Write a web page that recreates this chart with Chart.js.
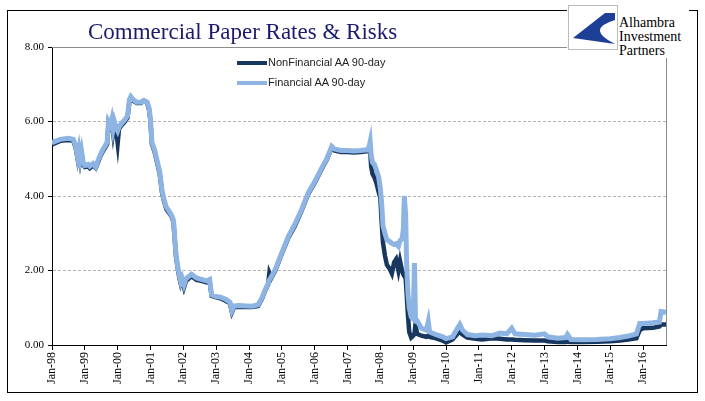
<!DOCTYPE html>
<html>
<head>
<meta charset="utf-8">
<script src="https://cdn.jsdelivr.net/npm/chart.js@4.4.1/dist/chart.umd.min.js"></script>
<style>
  body { margin: 0; background: #fff; }
  #wrap { position: relative; width: 705px; height: 401px; overflow: hidden; }
  #frame { position: absolute; left: 7px; top: 10px; width: 689px; height: 381px; border: 1.5px solid #000; }
  #chart { position: absolute; left: 0; top: 0; }
  #title { position: absolute; left: 88px; top: 20px; font: 23px "Liberation Serif", "Times New Roman", serif; line-height: 24px; color: #1b1b6e; white-space: nowrap; }
  #logo { position: absolute; left: 567px; top: 4px; width: 122px; height: 54px; background: #fff; }
  #logo svg { position: absolute; left: 1px; top: 1px; }
  #logo .txt { position: absolute; left: 52px; top: 12px; font: 14px "Liberation Serif", "Times New Roman", serif; line-height: 14px; color: #000; white-space: nowrap; }
  .leg { position: absolute; left: 237px; height: 14px; line-height: 14px; font: 11px "Liberation Sans", Arial, sans-serif; color: #222; white-space: nowrap; }
  .leg span.sw { display: inline-block; width: 30px; height: 3.5px; vertical-align: middle; margin-right: 1px; }
</style>
</head>
<body>
<div id="wrap">
  <div id="frame"></div>
  <canvas id="chart" width="705" height="401"></canvas>
  <div id="title">Commercial Paper Rates &amp; Risks</div>
  <div class="leg" style="top:56px"><span class="sw" style="background:#17375e"></span>NonFinancial AA 90-day</div>
  <div class="leg" style="top:76px"><span class="sw" style="background:#8db4e2"></span>Financial AA 90-day</div>
  <div id="logo">
    <svg width="50" height="46" viewBox="0 0 50 46">
      <rect x="0.5" y="0.5" width="49" height="44" fill="#fff" stroke="#bbb" stroke-width="1"/>
      <path d="M5 33 L37 8 L47 8 L47 15 Q17 24 47 39 Z" fill="#1d3f96"/>
    </svg>
    <div class="txt">Alhambra<br>Investment<br>Partners</div>
  </div>
</div>
<script>
// dates in decimal years
var dates = [
  1998.00, 1998.05, 1998.25, 1998.50, 1998.65, 1998.72, 1998.78, 1998.82, 1998.86, 1998.90,
  1998.95, 1999.00, 1999.10, 1999.15, 1999.25, 1999.33, 1999.40, 1999.48, 1999.55, 1999.62,
  1999.68, 1999.72, 1999.78, 1999.82, 1999.86, 1999.90, 1999.95, 2000.00, 2000.04, 2000.12,
  2000.22, 2000.30, 2000.36, 2000.40, 2000.48, 2000.58, 2000.70, 2000.80, 2000.90, 2000.96,
  2001.00, 2001.04, 2001.12, 2001.20, 2001.28, 2001.35, 2001.40, 2001.48, 2001.56, 2001.64,
  2001.70, 2001.74, 2001.78, 2001.84, 2001.88, 2001.92, 2001.96, 2002.02, 2002.08, 2002.25,
  2002.40, 2002.55, 2002.70, 2002.80, 2002.86, 2003.00, 2003.15, 2003.30, 2003.42, 2003.48,
  2003.55, 2003.70, 2003.90, 2004.10, 2004.28, 2004.40, 2004.50, 2004.58, 2004.62, 2004.68,
  2004.80, 2005.00, 2005.20, 2005.40, 2005.60, 2005.80, 2006.00, 2006.20, 2006.37, 2006.52,
  2006.60, 2006.80, 2007.00, 2007.20, 2007.40, 2007.60, 2007.65, 2007.69, 2007.72, 2007.76,
  2007.82, 2007.88, 2007.95, 2008.00, 2008.04, 2008.08, 2008.14, 2008.20, 2008.28, 2008.35,
  2008.42, 2008.48, 2008.55, 2008.60, 2008.66, 2008.70, 2008.73, 2008.77, 2008.80, 2008.84,
  2008.88, 2008.94, 2009.00, 2009.04, 2009.07, 2009.12, 2009.25, 2009.40, 2009.46, 2009.50,
  2009.70, 2009.90, 2010.00, 2010.20, 2010.35, 2010.42, 2010.50, 2010.65, 2010.90, 2011.10,
  2011.40, 2011.65, 2011.85, 2012.00, 2012.10, 2012.40, 2012.70, 2013.00, 2013.10, 2013.40,
  2013.65, 2013.70, 2013.80, 2014.20, 2014.60, 2015.00, 2015.30, 2015.55, 2015.80, 2015.90,
  2016.00, 2016.30, 2016.50, 2016.55, 2016.70
];

var nonFinancial = [
  5.45, 5.40, 5.48, 5.50, 5.48, 5.30, 5.00, 5.20, 4.95, 5.15,
  4.85, 4.78, 4.80, 4.75, 4.82, 4.75, 4.90, 5.08, 5.20, 5.30,
  5.40, 5.95, 5.85, 6.00, 5.70, 5.95, 5.80, 5.42, 5.80, 5.90,
  6.00, 6.10, 6.55, 6.62, 6.55, 6.50, 6.50, 6.55, 6.50, 6.30,
  6.00, 5.40, 5.20, 4.90, 4.60, 4.10, 3.90, 3.65, 3.55, 3.45,
  3.30, 2.80, 2.35, 2.00, 1.80, 1.65, 1.75, 1.55, 1.72, 1.85,
  1.75, 1.72, 1.68, 1.72, 1.32, 1.28, 1.25, 1.18, 1.12, 0.88,
  1.02, 1.03, 1.02, 1.02, 1.05, 1.25, 1.48, 1.62, 1.93, 1.80,
  2.00, 2.45, 2.88, 3.20, 3.60, 4.05, 4.35, 4.70, 4.98, 5.30,
  5.22, 5.18, 5.18, 5.17, 5.18, 5.20, 5.20, 5.25, 4.80, 4.60,
  4.50, 4.35, 4.10, 3.95, 3.30, 2.75, 2.40, 2.15, 2.05, 1.92,
  2.22, 2.30, 2.00, 2.25, 2.00, 1.90, 1.85, 1.80, 1.40, 0.80,
  0.35, 0.20, 0.25, 0.30, 0.55, 0.30, 0.25, 0.22, 0.25, 0.22,
  0.18, 0.12, 0.07, 0.15, 0.30, 0.35, 0.28, 0.20, 0.17, 0.15,
  0.18, 0.17, 0.15, 0.15, 0.14, 0.13, 0.12, 0.12, 0.10, 0.08,
  0.08, 0.09, 0.08, 0.08, 0.09, 0.10, 0.12, 0.15, 0.18, 0.40,
  0.45, 0.46, 0.50, 0.55, 0.55
];

var financial = [
  5.50, 5.45, 5.52, 5.55, 5.52, 5.35, 5.05, 5.25, 5.00, 5.20,
  4.90, 4.82, 4.85, 4.80, 4.87, 4.78, 4.95, 5.12, 5.25, 5.35,
  5.45, 6.00, 5.90, 6.05, 5.80, 6.00, 5.85, 5.75, 5.85, 5.95,
  6.05, 6.15, 6.60, 6.67, 6.58, 6.52, 6.52, 6.57, 6.52, 6.35,
  6.05, 5.45, 5.25, 4.95, 4.65, 4.15, 3.95, 3.70, 3.60, 3.48,
  3.35, 2.85, 2.40, 2.05, 1.85, 1.70, 1.80, 1.62, 1.78, 1.90,
  1.80, 1.76, 1.72, 1.76, 1.35, 1.30, 1.28, 1.22, 1.15, 0.92,
  1.05, 1.06, 1.05, 1.04, 1.08, 1.28, 1.50, 1.65, 1.75, 1.83,
  2.03, 2.48, 2.92, 3.25, 3.63, 4.08, 4.38, 4.73, 5.00, 5.33,
  5.26, 5.22, 5.22, 5.21, 5.22, 5.24, 5.30, 5.46, 5.10, 4.90,
  4.85, 4.70, 4.50, 4.20, 3.80, 3.20, 3.00, 2.82, 2.78, 2.73,
  2.70, 2.72, 2.65, 2.80, 2.85, 3.10, 4.00, 3.50, 2.20, 1.40,
  1.00, 0.75, 0.70, 2.20, 0.70, 0.65, 0.45, 0.40, 0.63, 0.35,
  0.28, 0.22, 0.17, 0.22, 0.45, 0.55, 0.40, 0.28, 0.25, 0.27,
  0.25, 0.32, 0.30, 0.45, 0.30, 0.28, 0.26, 0.30, 0.22, 0.18,
  0.20, 0.28, 0.15, 0.14, 0.15, 0.17, 0.20, 0.24, 0.30, 0.58,
  0.58, 0.60, 0.62, 0.90, 0.88
];

var tickYears = [1998, 1999, 2000, 2001, 2002, 2003, 2004, 2005, 2006, 2007, 2008, 2009, 2010, 2011, 2012, 2013, 2014, 2015, 2016];
var tickLabels = ['Jan-98', 'Jan-99', 'Jan-00', 'Jan-01', 'Jan-02', 'Jan-03', 'Jan-04', 'Jan-05', 'Jan-06', 'Jan-07',
  'Jan-08', 'Jan-09', 'Jan-10', 'Jan-11', 'Jan-12', 'Jan-13', 'Jan-14', 'Jan-15', 'Jan-16'];

function toPoints(values) {
  return dates.map(function (d, i) { return { x: d, y: values[i] }; });
}

// gray border on top and right of the plot area
var plotBorder = {
  id: 'plotBorder',
  afterDraw: function (chart) {
    var a = chart.chartArea, c = chart.ctx;
    c.save();
    c.strokeStyle = '#8c8c8c';
    c.lineWidth = 1;
    c.beginPath();
    c.moveTo(a.left, Math.round(a.top) + 0.5);
    c.lineTo(Math.round(a.right) + 0.5, Math.round(a.top) + 0.5);
    c.lineTo(Math.round(a.right) + 0.5, a.bottom);
    c.stroke();
    c.restore();
  }
};

var serif = { family: '"Liberation Serif", "Times New Roman", serif', size: 11 };
var serifX = { family: '"Liberation Serif", "Times New Roman", serif', size: 12 };

new Chart(document.getElementById('chart'), {
  type: 'line',
  data: {
    datasets: [{
      label: 'NonFinancial AA 90-day',
      data: toPoints(nonFinancial),
      borderColor: '#17375e',
      borderWidth: 4.5,
      pointRadius: 0,
      tension: 0,
      order: 2
    }, {
      label: 'Financial AA 90-day',
      data: toPoints(financial),
      borderColor: '#8db4e2',
      borderWidth: 5,
      pointRadius: 0,
      tension: 0,
      order: 1
    }]
  },
  options: {
    responsive: false,
    animation: false,
    layout: { padding: { top: 47, right: 39, left: 0, bottom: 0 } },
    plugins: { legend: { display: false }, tooltip: { enabled: false } },
    scales: {
      x: {
        type: 'linear',
        min: 1998,
        max: 2016.7,
        afterBuildTicks: function (s) { s.ticks = tickYears.map(function (v) { return { value: v }; }); },
        afterFit: function (s) { s.height = 56; },
        ticks: {
          autoSkip: false,
          minRotation: 90,
          maxRotation: 90,
          padding: 2,
          color: '#000',
          font: serifX,
          callback: function (v) { return tickLabels[tickYears.indexOf(v)]; }
        },
        grid: { drawOnChartArea: false, drawTicks: true, tickLength: 5, tickColor: '#000' },
        border: { color: '#000', width: 1 }
      },
      y: {
        min: 0,
        max: 8,
        afterFit: function (s) { s.width = 52; },
        ticks: {
          stepSize: 2,
          padding: 4,
          color: '#000',
          font: serif,
          callback: function (v) { return v.toFixed(2); }
        },
        grid: { color: '#b4b4b4', lineWidth: 1, tickColor: '#000', tickLength: 4 },
        border: { color: '#000', width: 1, dash: [3, 2] }
      }
    }
  },
  plugins: [plotBorder]
});
</script>
</body>
</html>
